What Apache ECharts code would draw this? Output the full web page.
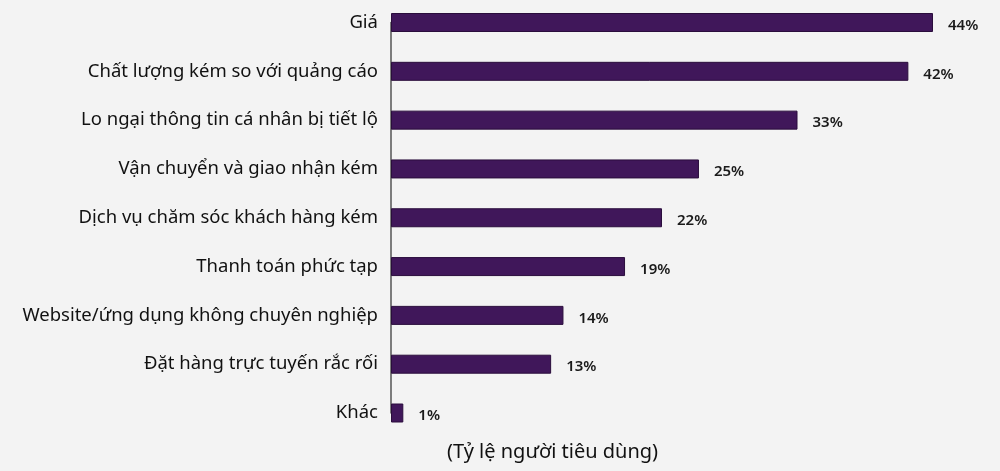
<!DOCTYPE html>
<html>
<head>
<meta charset="utf-8">
<script src="https://cdn.jsdelivr.net/npm/echarts@6/dist/echarts.min.js"></script>
<style>
  html, body { margin: 0; padding: 0; background: #f3f3f3; }
  #main { width: 1000px; height: 471px; }
</style>
</head>
<body>
<div id="main"></div>
<script>
var categories = [
  'Giá',
  'Chất lượng kém so với quảng cáo',
  'Lo ngại thông tin cá nhân bị tiết lộ',
  'Vận chuyển và giao nhận kém',
  'Dịch vụ chăm sóc khách hàng kém',
  'Thanh toán phức tạp',
  'Website/ứng dụng không chuyên nghiệp',
  'Đặt hàng trực tuyến rắc rối',
  'Khác'
];
var values = [44, 42, 33, 25, 22, 19, 14, 13, 1];
var axisTitle = '(Tỷ lệ người tiêu dùng)';

var chart = echarts.init(document.getElementById('main'));

var option = {
  backgroundColor: '#f3f3f3',
  animation: false,
  title: {
    text: axisTitle,
    left: 442,
    top: 437,
    textStyle: {
      fontFamily: 'Noto Sans',
      fontSize: 20,
      fontWeight: 'normal',
      color: '#111111'
    }
  },
  grid: {
    left: 391,
    right: 67,
    top: 22.5,
    bottom: 58
  },
  xAxis: {
    type: 'value',
    min: 0,
    max: 44,
    show: false
  },
  yAxis: {
    type: 'category',
    data: categories,
    inverse: true,
    boundaryGap: false,
    axisTick: { show: false },
    axisLine: { lineStyle: { color: '#555555', width: 1.5 } },
    axisLabel: {
      margin: 13,
      padding: [5, 0, 0, 0],
      fontFamily: 'Noto Sans',
      fontSize: 18.5,
      color: '#111111'
    }
  },
  series: [{
    type: 'bar',
    data: values,
    barWidth: 19,
    itemStyle: {
      color: '#40175a',
      borderColor: '#2a0d3c',
      borderWidth: 1
    },
    label: {
      show: true,
      position: 'right',
      distance: 15,
      offset: [0, 3],
      formatter: '{c}%',
      fontFamily: 'Noto Sans',
      fontSize: 15,
      fontWeight: 600,
      color: '#1a1a1a'
    }
  }]
};

chart.setOption(option);
</script>
</body>
</html>
